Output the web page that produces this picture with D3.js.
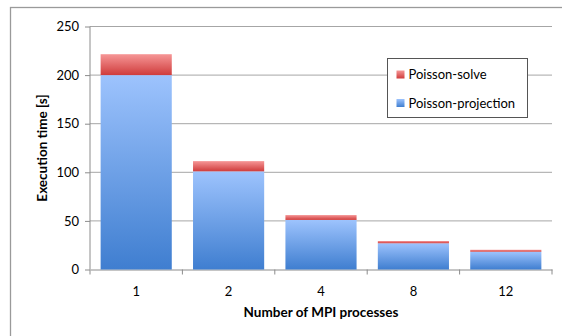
<!DOCTYPE html>
<html>
<head>
<meta charset="utf-8">
<script src="https://cdn.jsdelivr.net/npm/d3@7"></script>
<style>
  body { margin: 0; background: #fff; }
  svg text { font-family: Lato, "Open Sans", sans-serif; fill: #000; }
</style>
</head>
<body>
<div id="zone"></div>
<script>
(function() {
  "use strict";

  // données
  var processes = ["1", "2", "4", "8", "12"];
  var projection = [200, 101, 51, 27, 18.3];
  var solve = [21.5, 10.5, 5, 2.3, 2];
  var seriesNames = ["Poisson-solve", "Poisson-projection"];
  var yTicks = [0, 50, 100, 150, 200, 250];

  var width = 562, height = 336;
  var margin = { left: 90, right: 10, top: 26.5, bottom: 66.5 };

  var svg = d3.select("#zone").append("svg")
    .attr("width", width)
    .attr("height", height);

  // dégradés façon Excel
  var defs = svg.append("defs");
  function gradient(id, top, bottom) {
    var g = defs.append("linearGradient").attr("id", id)
      .attr("x1", 0).attr("y1", 0).attr("x2", 0).attr("y2", 1);
    g.append("stop").attr("offset", "0%").attr("stop-color", top);
    g.append("stop").attr("offset", "100%").attr("stop-color", bottom);
  }
  gradient("gBlue", "#9dc3fd", "#3f7ed0");
  gradient("gRed", "#f69696", "#cf3c3c");

  // cadre extérieur
  svg.append("rect")
    .attr("x", 10.5).attr("y", 7.5)
    .attr("width", 560).attr("height", 340)
    .attr("fill", "none").attr("stroke", "#9a9a9a").attr("stroke-width", 1.3);

  var x = d3.scaleBand()
    .domain(processes)
    .range([margin.left, width - margin.right])
    .paddingInner(0.23)
    .paddingOuter(0.115);

  var xAxisScale = d3.scaleBand()
    .domain(processes)
    .range([margin.left, width - margin.right]);

  var y = d3.scaleLinear()
    .domain([0, 250])
    .range([height - margin.bottom, margin.top]);

  // grille
  svg.append("g").selectAll("line")
    .data(yTicks.filter(function(d) { return d > 0; }))
    .join("line")
    .attr("x1", margin.left).attr("x2", width - margin.right)
    .attr("y1", function(d) { return y(d); })
    .attr("y2", function(d) { return y(d); })
    .attr("stroke", "#a6a6a6").attr("stroke-width", 1);

  // axe y
  var yAxis = svg.append("g")
    .attr("transform", "translate(" + margin.left + ",0)")
    .call(d3.axisLeft(y).tickValues(yTicks).tickSize(5).tickPadding(6));
  yAxis.selectAll("path, line").attr("stroke", "#8c8c8c");
  yAxis.select(".domain").attr("d", "M0," + y(0) + "V" + y(250));
  yAxis.selectAll("text").style("font-size", "13px").attr("fill", "#000");

  // axe x
  var xAxis = svg.append("g")
    .attr("transform", "translate(0," + y(0) + ")")
    .call(d3.axisBottom(xAxisScale).tickSize(0).tickPadding(17));
  xAxis.select(".domain").attr("stroke", "#8c8c8c");
  xAxis.selectAll("text").style("font-size", "13px").attr("fill", "#000");
  xAxis.selectAll(".sep")
    .data(d3.range(processes.length + 1))
    .join("line")
    .attr("class", "sep")
    .attr("x1", function(i) { return margin.left + i * xAxisScale.step(); })
    .attr("x2", function(i) { return margin.left + i * xAxisScale.step(); })
    .attr("y1", 0).attr("y2", 5)
    .attr("stroke", "#8c8c8c");

  // barres empilées
  var bars = svg.append("g");
  bars.selectAll(".proj")
    .data(processes)
    .join("rect")
    .attr("class", "proj")
    .attr("x", function(d) { return x(d); })
    .attr("width", x.bandwidth())
    .attr("y", function(d, i) { return y(projection[i]); })
    .attr("height", function(d, i) { return y(0) - y(projection[i]); })
    .attr("fill", "url(#gBlue)");

  bars.selectAll(".solve")
    .data(processes)
    .join("rect")
    .attr("class", "solve")
    .attr("x", function(d) { return x(d); })
    .attr("width", x.bandwidth())
    .attr("y", function(d, i) { return y(projection[i] + solve[i]); })
    .attr("height", function(d, i) { return y(projection[i]) - y(projection[i] + solve[i]); })
    .attr("fill", "url(#gRed)");

  // titres des axes
  svg.append("text")
    .attr("transform", "translate(47," + ((y(0) + y(250)) / 2) + ") rotate(-90)")
    .attr("text-anchor", "middle")
    .style("font-size", "13.5px").style("font-weight", "bold")
    .text("Execution time [s]");

  svg.append("text")
    .attr("x", (margin.left + width - margin.right) / 2)
    .attr("y", 317)
    .attr("text-anchor", "middle")
    .style("font-size", "13.5px").style("font-weight", "bold")
    .text("Number of MPI processes");

  // légende
  var legend = svg.append("g").attr("transform", "translate(387.5,58.5)");
  legend.append("rect")
    .attr("width", 140).attr("height", 59)
    .attr("fill", "#fff").attr("stroke", "#555").attr("stroke-width", 1);
  var colors = ["url(#gRed)", "url(#gBlue)"];
  var items = legend.selectAll(".item")
    .data(seriesNames)
    .join("g")
    .attr("class", "item")
    .attr("transform", function(d, i) { return "translate(9," + (12 + i * 28.5) + ")"; });
  items.append("rect")
    .attr("width", 8).attr("height", 8)
    .attr("fill", function(d, i) { return colors[i]; });
  items.append("text")
    .attr("x", 12).attr("y", 8.5)
    .style("font-size", "13px")
    .text(function(d) { return d; });
})();
</script>
</body>
</html>
